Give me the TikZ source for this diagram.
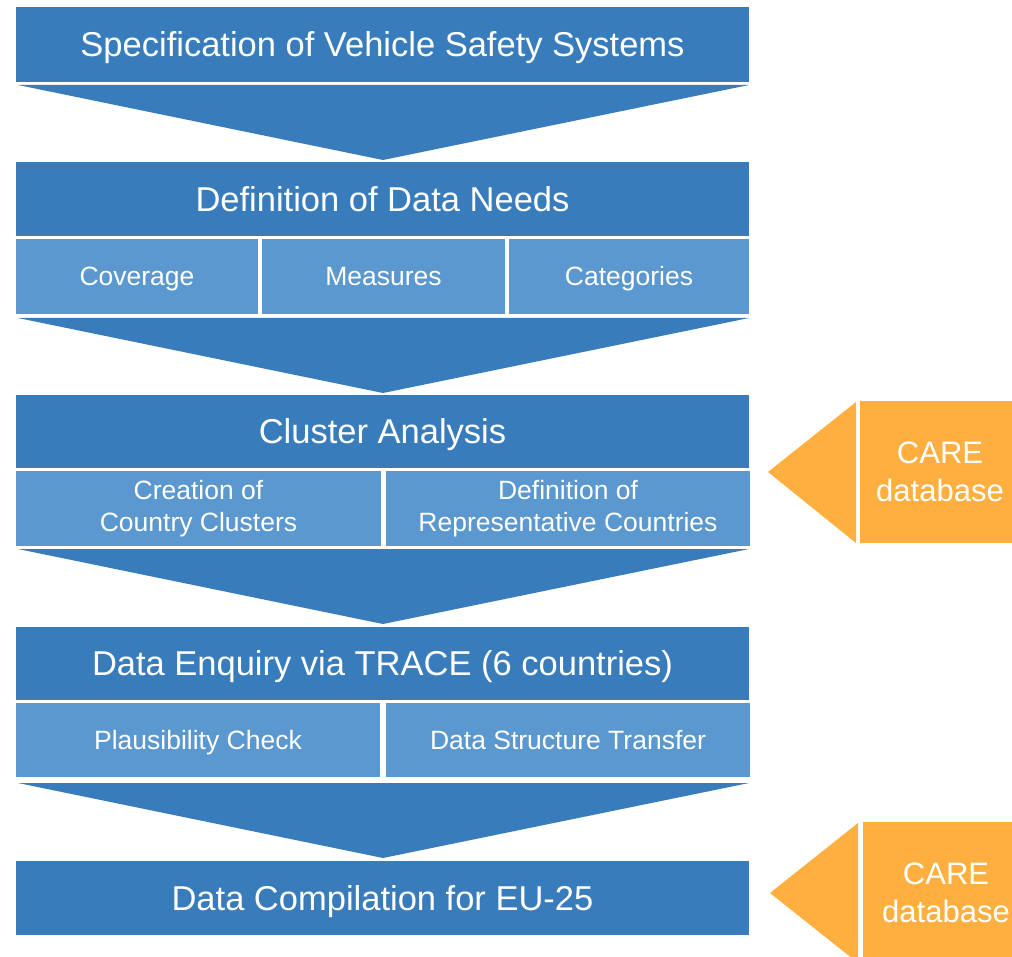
\documentclass[tikz,border=0pt]{standalone}
\usepackage{fontspec}
\setmainfont{Liberation Sans}
\definecolor{stepblue}{HTML}{387CBC}
\definecolor{subblue}{HTML}{5A98CF}
\definecolor{careorange}{HTML}{FFAF40}
\tikzset{
  mainbox/.style={fill=stepblue, text=white, inner sep=0pt, outer sep=0pt,
    font=\fontsize{34.5}{40}\selectfont, text height=24.7pt, text depth=0pt},
  subbox/.style={fill=subblue, text=white, inner sep=0pt, outer sep=0pt, align=center,
    font=\fontsize{26.5}{32}\selectfont},
  oneline/.style={text height=19pt, text depth=0pt},
  carebox/.style={fill=careorange, text=white, inner sep=0pt, outer sep=0pt, align=center,
    font=\fontsize{31}{37.5}\selectfont},
  chevron/.style={fill=stepblue},
  carearrow/.style={fill=careorange},
}
\begin{document}
\begin{tikzpicture}[x=1pt,y=-1pt]
\useasboundingbox (0,0) rectangle (1012,957);
\clip (0,0) rectangle (1012,957);

% stage 1
\node[mainbox, minimum width=733pt, minimum height=75pt] (spec) at (382.5,44.5)
  {Specification of Vehicle Safety Systems};
\fill[chevron] (18,85) -- (749,85) -- (383,160) -- cycle;

% stage 2
\node[mainbox, minimum width=733pt, minimum height=74pt] (needs) at (382.5,199)
  {Definition of Data Needs};
\node[subbox, oneline, minimum width=242pt, minimum height=75pt] (coverage) at (137,276.5) {Coverage};
\node[subbox, oneline, minimum width=243pt, minimum height=75pt] (measures) at (383.5,276.5) {Measures};
\node[subbox, oneline, minimum width=240pt, minimum height=75pt] (categories) at (629,276.5) {Categories};
\fill[chevron] (18,318) -- (749,318) -- (383,393) -- cycle;

% stage 3
\node[mainbox, minimum width=733pt, minimum height=73pt] (cluster) at (382.5,431.5)
  {Cluster Analysis};
\node[subbox, minimum width=365pt, minimum height=75pt] (creation) at (198.5,508.5)
  {Creation of\\Country Clusters};
\node[subbox, minimum width=364pt, minimum height=75pt] (represent) at (568,508.5)
  {Definition of\\Representative Countries};
\fill[chevron] (18,549) -- (749,549) -- (383,624) -- cycle;

% stage 4
\node[mainbox, minimum width=733pt, minimum height=73pt] (enquiry) at (382.5,663.5)
  {Data Enquiry via TRACE (6 countries)};
\node[subbox, oneline, minimum width=364pt, minimum height=74pt] (plaus) at (198,740)
  {Plausibility Check};
\node[subbox, oneline, minimum width=364pt, minimum height=74pt] (transfer) at (568,740)
  {Data Structure Transfer};
\fill[chevron] (18,783) -- (749,783) -- (383,858) -- cycle;

% stage 5
\node[mainbox, minimum width=733pt, minimum height=74pt] (compile) at (382.5,898)
  {Data Compilation for EU-25};

% CARE database inputs
\path[fill=careorange] (860,401) rectangle (1012,543);
\node[carebox] (care1) at (940,472) {CARE\\database};
\fill[carearrow] (768,472) -- (856,402) -- (856,543) -- cycle;

\path[fill=careorange] (863,822) rectangle (1015,963);
\node[carebox] (care2) at (946,893) {CARE\\database};
\fill[carearrow] (770,893) -- (858,823) -- (858,963) -- cycle;
\end{tikzpicture}
\end{document}
